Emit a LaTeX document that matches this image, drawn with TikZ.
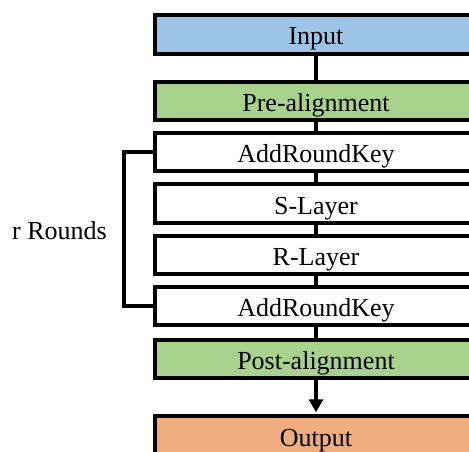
\documentclass[tikz,border=0pt]{standalone}
\usepackage{fontspec}
\setmainfont{Liberation Serif}
\usetikzlibrary{arrows.meta}
\definecolor{inblue}{RGB}{157,195,230}
\definecolor{algreen}{RGB}{169,209,142}
\definecolor{outorange}{RGB}{240,173,128}
\begin{document}
\begin{tikzpicture}[x=1pt,y=-1pt,
  box/.style={draw=black, line width=4pt, minimum width=322pt, minimum height=38.5pt,
    inner sep=0pt, text height=21pt, text depth=0pt, font=\fontsize{26}{31}\selectfont},
  link/.style={line width=4pt},
  lbl/.style={inner sep=0pt, font=\fontsize{26}{31}\selectfont}]
\useasboundingbox (0,0) rectangle (469,452);
\clip (0,0) rectangle (469,452);
\node[box, fill=inblue] (in) at (316,34.5) {Input};
\node[box, fill=algreen] (pre) at (316,100.8) {Pre-alignment};
\node[box, fill=white] (ark1) at (316,152.2) {AddRoundKey};
\node[box, fill=white] (sl) at (316,203.5) {S-Layer};
\node[box, fill=white] (rl) at (316,255) {R-Layer};
\node[box, fill=white] (ark2) at (316,306) {AddRoundKey};
\node[box, fill=algreen] (post) at (316,359.2) {Post-alignment};
\node[box, fill=outorange] (out) at (316,435.5) {Output};
\draw[link] (in.south) -- (pre.north);
\draw[link] (pre.south) -- (ark1.north);
\draw[link] (ark1.south) -- (sl.north);
\draw[link] (sl.south) -- (rl.north);
\draw[link] (rl.south) -- (ark2.north);
\draw[link] (ark2.south) -- (post.north);
\draw[link, -{Triangle[width=14pt,length=13pt]}, shorten >=2pt] (post.south) -- (out.north);
\draw[link] (ark1.west) -- ++(-29.5,0) |- (ark2.west);
\node[lbl] (rounds) at (59.5,230.3) {r Rounds};
\end{tikzpicture}
\end{document}
